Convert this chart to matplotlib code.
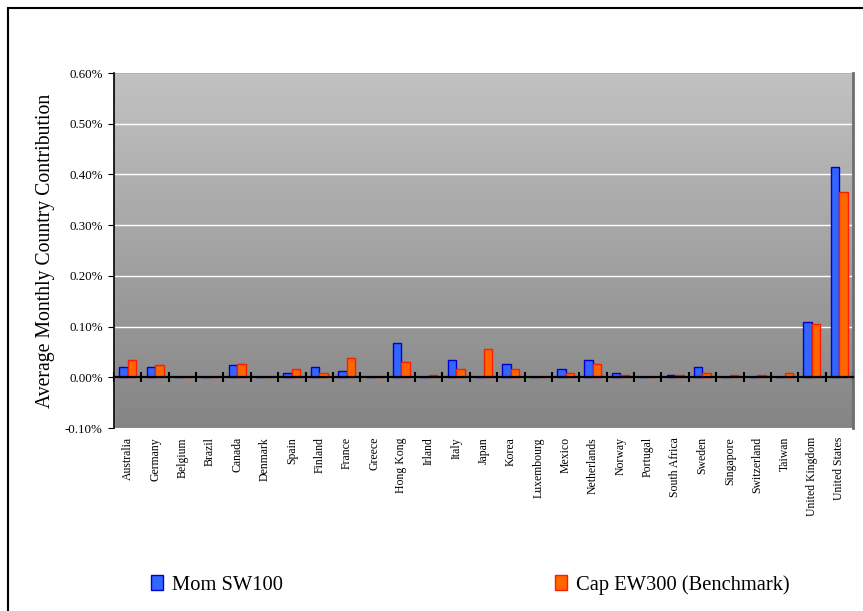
import matplotlib.pyplot as plt
import numpy as np
from matplotlib.patches import Rectangle, Patch
from matplotlib.ticker import FuncFormatter, FixedLocator

countries = ['Australia', 'Germany', 'Belgium', 'Brazil', 'Canada', 'Denmark',
             'Spain', 'Finland', 'France', 'Greece', 'Hong Kong', 'Irland',
             'Italy', 'Japan', 'Korea', 'Luxembourg', 'Mexico', 'Netherlands',
             'Norway', 'Portugal', 'South Africa', 'Sweden', 'Singapore',
             'Switzerland', 'Taiwan', 'United Kingdom', 'United States']

# average monthly contribution, in percent
mom_sw100 = [0.021, 0.021, 0.0, 0.0, 0.025, 0.0,
             0.008, 0.021, 0.012, 0.0, 0.067, 0.0,
             0.035, 0.0, 0.027, 0.0, 0.016, 0.035,
             0.008, 0.0, 0.004, 0.021, 0.0,
             0.0, 0.0, 0.110, 0.414]
cap_ew300 = [0.035, 0.025, 0.0, 0.0, 0.027, 0.0,
             0.016, 0.008, 0.039, 0.0, 0.031, 0.004,
             0.016, 0.055, 0.016, 0.0, 0.008, 0.027,
             0.004, 0.0, 0.004, 0.008, 0.004,
             0.004, 0.008, 0.106, 0.366]

serif = ['Liberation Serif', 'DejaVu Serif']
plt.rcParams['font.family'] = serif

fig = plt.figure(figsize=(8.63, 6.11), dpi=100)
ax = fig.add_axes([114 / 863, 1 - 428 / 611, (853 - 114) / 863, (428 - 73) / 611])

n = len(countries)
x = np.arange(n)
ymin, ymax = -0.1, 0.6

# gray gradient backdrop, light at the top
shade = np.linspace(0.52, 0.76, 256)
grad = np.repeat(shade[:, None, None], 3, axis=2)
ax.imshow(grad, extent=(-0.5, n - 0.5, ymin, ymax), aspect='auto',
          origin='lower', zorder=0)

for v in [0.1, 0.2, 0.3, 0.4, 0.5, 0.6]:
    ax.axhline(v, color='white', linewidth=1, zorder=1)

w = 0.31
ax.bar(x - w / 2, mom_sw100, w, color='#3366ff', edgecolor='#0000cc',
       linewidth=1, zorder=3, label='Mom SW100')
ax.bar(x + w / 2, cap_ew300, w, color='#ff6600', edgecolor='#ff1a00',
       linewidth=1, zorder=3, label='Cap EW300 (Benchmark)')

ax.set_xlim(-0.5, n - 0.5)
ax.set_ylim(ymin, ymax)

# category axis runs along zero
ax.spines['bottom'].set_position(('data', 0))
ax.spines['bottom'].set_linewidth(1.6)
ax.spines['bottom'].set_zorder(4)
ax.spines['left'].set_linewidth(1.2)
ax.spines['top'].set_visible(False)
ax.spines['right'].set_color('#6e6e6e')
ax.spines['right'].set_linewidth(2)
ax.add_patch(Rectangle((0, 0), 1, 1, transform=ax.transAxes, fill=False,
                       edgecolor='#b0b0b0', linewidth=1, zorder=2))

ax.set_xticks(x)
ax.set_xticklabels(countries, rotation=90, fontsize=8.5, va='top')
ax.xaxis.set_minor_locator(FixedLocator(np.arange(n + 1) - 0.5))
ax.tick_params(axis='x', which='major', length=0, pad=43)
ax.tick_params(axis='x', which='minor', direction='inout', length=7, width=1.5)

ax.set_yticks(np.arange(-0.1, 0.61, 0.1))
ax.yaxis.set_major_formatter(FuncFormatter(lambda v, pos: f'{v:.2f}%'))
ax.tick_params(axis='y', direction='out', length=4, labelsize=9.3, pad=4)
ax.set_ylabel('Average Monthly Country Contribution', fontsize=14.2, labelpad=7)

handles = [Patch(facecolor='#3366ff', edgecolor='#0000cc'),
           Patch(facecolor='#ff6600', edgecolor='#ff1a00')]
fig.legend(handles, ['Mom SW100', 'Cap EW300 (Benchmark)'], ncol=2,
           loc='center', bbox_to_anchor=(0.545, 0.043), frameon=False,
           fontsize=14.8, handlelength=0.6, handleheight=0.8, handletextpad=0.45,
           columnspacing=13.2)

# outer frame: left and top edges only
fig.add_artist(Rectangle((8 / 863, -0.5), 2, 0.5 + 603 / 611,
                         transform=fig.transFigure, fill=False,
                         edgecolor='black', linewidth=1.5))

fig.savefig('out.png', dpi=100)
